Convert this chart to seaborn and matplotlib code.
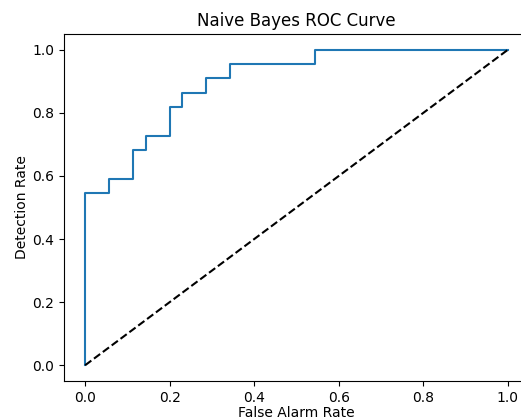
import matplotlib
matplotlib.use("Agg")
import matplotlib.pyplot as plt
import seaborn as sns
import pandas as pd
import numpy as np

# ROC curve points (staircase as returned by roc_curve)
fpr = [0.0, 0.0, 0.0571, 0.0571, 0.1143, 0.1143, 0.1429, 0.1429, 0.2, 0.2,
       0.2286, 0.2286, 0.2857, 0.2857, 0.3429, 0.3429, 0.5429, 0.5429, 1.0]
tpr = [0.0, 0.5455, 0.5455, 0.5909, 0.5909, 0.6818, 0.6818, 0.7273, 0.7273, 0.8182,
       0.8182, 0.8636, 0.8636, 0.9091, 0.9091, 0.9545, 0.9545, 1.0, 1.0]
diag_x = [0.0, 1.0]
diag_y = [0.0, 1.0]

title = "Naive Bayes ROC Curve"
xlabel = "False Alarm Rate"
ylabel = "Detection Rate"

plt.rcParams['font.family'] = ['DejaVu Sans']
fig = plt.figure(figsize=(5.21, 4.19), dpi=100)
ax = fig.add_axes([64/521, (419-381)/419, (529-64)/521, (381-34)/419])

df = pd.DataFrame({"fpr": fpr, "tpr": tpr})
sns.lineplot(data=df, x="fpr", y="tpr", sort=False, estimator=None,
             color="#1f77b4", linewidth=1.5, ax=ax)
sns.lineplot(x=diag_x, y=diag_y, color="black", linestyle="--",
             linewidth=1.5, ax=ax)

ax.set_xlim(-0.05, 1.05)
ax.set_ylim(-0.05, 1.05)
ax.set_xticks([0.0, 0.2, 0.4, 0.6, 0.8, 1.0])
ax.set_yticks([0.0, 0.2, 0.4, 0.6, 0.8, 1.0])
ax.set_title(title, fontsize=12)
ax.set_xlabel(xlabel, fontsize=10, labelpad=1)
ax.set_ylabel(ylabel, fontsize=10, labelpad=2)

fig.savefig("out.png", dpi=100)
